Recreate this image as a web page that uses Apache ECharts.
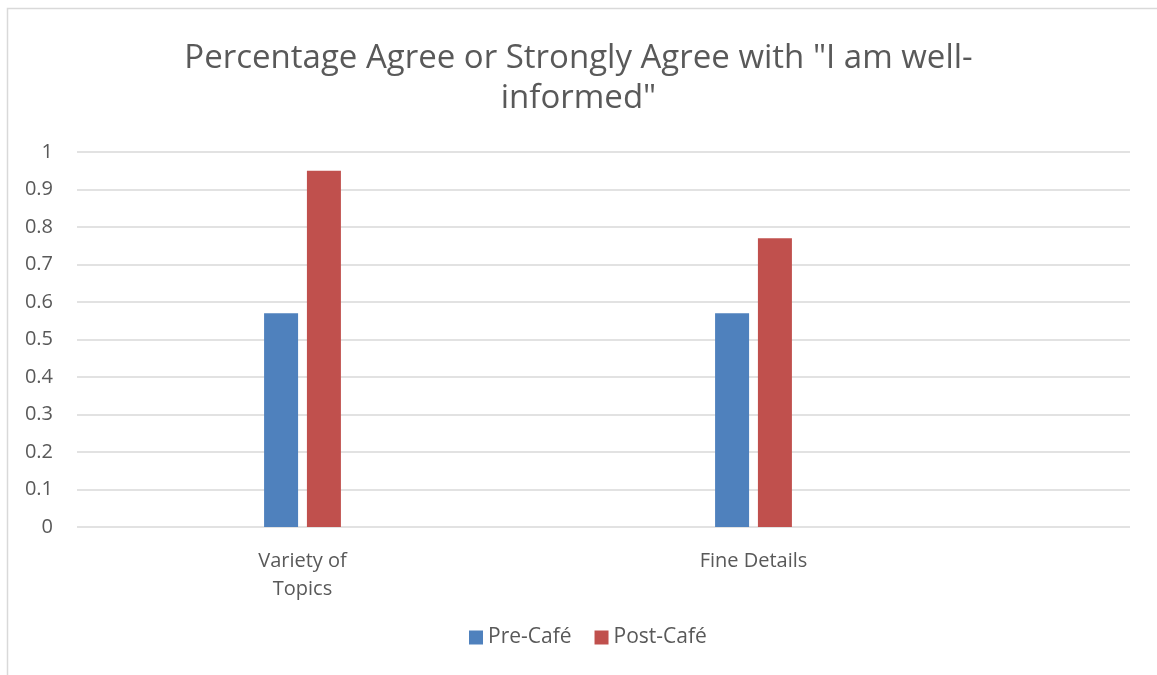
<!DOCTYPE html>
<html>
<head>
<meta charset="utf-8">
<script src="https://cdn.jsdelivr.net/npm/echarts@6/dist/echarts.min.js"></script>
<style>
  html, body { margin: 0; padding: 0; background: #ffffff; }
  #chart { width: 1157px; height: 675px; }
</style>
</head>
<body>
<div id="chart"></div>
<script>
// Survey results: share agreeing they are well-informed, before and after the café
const titleText = 'Percentage Agree or Strongly Agree with "I am well-\ninformed"';
const categories = ['Variety of\nTopics', 'Fine Details'];
const seriesNames = ['Pre-Café', 'Post-Café'];
const preCafe = [0.57, 0.57];
const postCafe = [0.95, 0.77];
const yMin = 0;
const yMax = 1;
const yStep = 0.1;

const textColor = '#595959';
const gridColor = '#d9d9d9';
const fontFamily = '"Open Sans", "Noto Sans", sans-serif';

const chart = echarts.init(document.getElementById('chart'), null, { renderer: 'canvas' });

chart.setOption({
  backgroundColor: '#ffffff',
  animation: false,
  textStyle: { fontFamily: fontFamily, color: textColor },
  graphic: [{
    type: 'rect',
    shape: { x: 7.5, y: 8.5, width: 1200, height: 700 },
    style: { fill: 'none', stroke: gridColor, lineWidth: 1.5 },
    silent: true,
    z: -10
  }],
  title: {
    text: titleText,
    left: 'center',
    top: 34,
    padding: [5, 5, 5, 14],
    textStyle: {
      fontFamily: fontFamily,
      fontSize: 33,
      fontWeight: 'normal',
      color: textColor,
      lineHeight: 40
    }
  },
  legend: {
    data: seriesNames,
    bottom: 22,
    left: 464,
    itemWidth: 14,
    itemHeight: 14,
    itemGap: 23,
    icon: 'rect',
    textStyle: { fontFamily: fontFamily, fontSize: 21, color: textColor }
  },
  grid: [
    // full-width area carrying the value scale and its gridlines
    { left: 77, right: 27, top: 152, bottom: 148 },
    // area holding the two category bands
    { left: 77, width: 902, top: 152, bottom: 148 }
  ],
  xAxis: [
    { gridIndex: 0, type: 'category', data: categories, show: false },
    {
      gridIndex: 1,
      type: 'category',
      data: categories,
      axisLine: { show: false },
      axisTick: { show: false },
      axisLabel: {
        fontFamily: fontFamily,
        fontSize: 20,
        color: textColor,
        lineHeight: 28,
        margin: 20
      }
    }
  ],
  yAxis: [
    {
      gridIndex: 0,
      type: 'value',
      min: yMin,
      max: yMax,
      interval: yStep,
      axisLine: { show: false },
      axisTick: { show: false },
      splitLine: { lineStyle: { color: gridColor, width: 1.5 } },
      axisLabel: {
        fontFamily: fontFamily,
        fontSize: 20,
        color: textColor,
        margin: 24,
        formatter: v => String(Math.round(v * 10) / 10)
      }
    },
    {
      gridIndex: 1,
      type: 'value',
      min: yMin,
      max: yMax,
      interval: yStep,
      show: false,
      splitLine: { show: false }
    }
  ],
  series: [
    {
      name: seriesNames[0],
      type: 'bar',
      xAxisIndex: 1,
      yAxisIndex: 1,
      data: preCafe,
      barWidth: 34,
      barGap: '26%',
      itemStyle: { color: '#4f81bd' }
    },
    {
      name: seriesNames[1],
      type: 'bar',
      xAxisIndex: 1,
      yAxisIndex: 1,
      data: postCafe,
      barWidth: 34,
      barGap: '26%',
      itemStyle: { color: '#c0504d' }
    }
  ]
});
</script>
</body>
</html>
